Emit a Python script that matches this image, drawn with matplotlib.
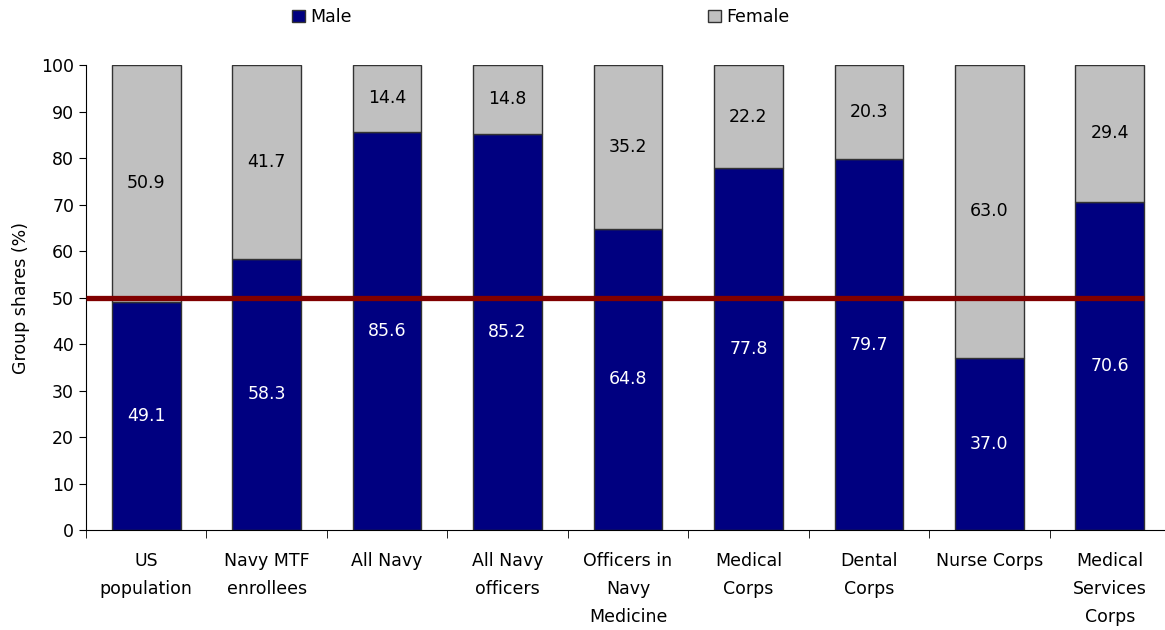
import matplotlib.pyplot as plt
import numpy as np

# Data
categories = ['US\npopulation', 'Navy MTF\nenrollees', 'All Navy', 'All Navy\nofficers',
              'Officers in\nNavy\nMedicine', 'Medical\nCorps', 'Dental\nCorps',
              'Nurse Corps', 'Medical\nServices\nCorps']
male = [49.1, 58.3, 85.6, 85.2, 64.8, 77.8, 79.7, 37.0, 70.6]
female = [50.9, 41.7, 14.4, 14.8, 35.2, 22.2, 20.3, 63.0, 29.4]
reference_line = 50

plt.rcParams['font.family'] = ['DejaVu Sans']

fig = plt.figure(figsize=(11.65, 6.3), dpi=100)
ax = fig.add_axes([0.0738, 0.1587, 0.9305, 0.7381])

x = np.arange(len(categories))
width = 0.57
ax.bar(x, male, width, color='#000080', edgecolor='#333333', linewidth=1, label='Male', zorder=2)
ax.bar(x, female, width, bottom=male, color='#C0C0C0', edgecolor='#333333', linewidth=1,
       label='Female', zorder=2)

for i in range(len(x)):
    ax.text(x[i], male[i] / 2, f'{male[i]:.1f}', ha='center', va='center',
            color='white', fontsize=12.5)
    ax.text(x[i], male[i] + female[i] / 2, f'{female[i]:.1f}', ha='center', va='center',
            color='black', fontsize=12.5)

# 50% reference line
ax.plot([-0.5, x[-1] + width / 2], [reference_line, reference_line], color='#800000',
        linewidth=3.8, zorder=3, solid_capstyle='butt')

ax.set_xlim(-0.5, len(categories) - 0.5)
ax.set_ylim(0, 100)
ax.set_yticks(np.arange(0, 101, 10))
ax.set_xticks(x)
ax.set_xticklabels(categories, fontsize=12.5, linespacing=1.7)
ax.set_xticks(np.arange(-0.5, len(categories), 1), minor=True)
ax.tick_params(axis='x', which='major', length=0, pad=16)
ax.tick_params(axis='x', which='minor', length=6, direction='out')
ax.tick_params(axis='y', labelsize=12.5, length=5, direction='out')
ax.set_ylabel('Group shares (%)', fontsize=12.5, labelpad=8)

for side in ['top', 'right']:
    ax.spines[side].set_visible(False)

fig.legend(loc='upper center', bbox_to_anchor=(0.464, 1.012), ncol=2, frameon=False,
           fontsize=12.5, columnspacing=20.5, handlelength=0.75, handleheight=0.75,
           handletextpad=0.3)

plt.savefig('out.png', dpi=100)
